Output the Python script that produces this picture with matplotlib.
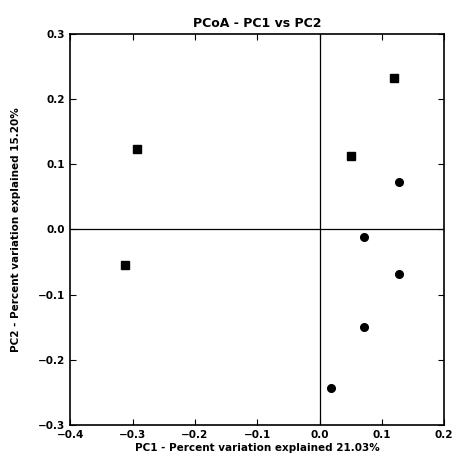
from matplotlib import pyplot as plt
import numpy as np

# PCoA coordinates
pc1 = [0.120, 0.050, 0.127, 0.072, 0.128, 0.072, 0.018, -0.293, -0.312]
pc2 = [0.232, 0.112, 0.072, -0.011, -0.069, -0.149, -0.243, 0.124, -0.055]
big = [True, True, False, False, False, False, False, True, True]

xticks = [-0.4, -0.3, -0.2, -0.1, 0.0, 0.1, 0.2]
yticks = [-0.3, -0.2, -0.1, 0.0, 0.1, 0.2, 0.3]

plt.rcParams['font.family'] = 'DejaVu Sans'
plt.rcParams['font.weight'] = 'bold'

fig = plt.figure(figsize=(4.56, 4.63), dpi=100)
ax = fig.add_axes([0.154, 0.082, 0.82, 0.845])

for x, y, b in zip(pc1, pc2, big):
    ax.plot(x, y, marker='s' if b else 'o', color='black',
            markersize=5.5 if b else 5.5, ls='none')

ax.axhline(0, color='black', lw=0.9)
ax.axvline(0, color='black', lw=0.9)

def lab(t):
    return ('%.1f' % t).replace('-', '\u2212')

ax.set_xlim(-0.4, 0.2)
ax.set_ylim(-0.3, 0.3)
ax.set_xticks(xticks)
ax.set_yticks(yticks)
ax.set_xticklabels([lab(t) for t in xticks])
ax.set_yticklabels([lab(t) for t in yticks])
ax.tick_params(direction='in', top=True, right=True, labelsize=7.5, length=4)
for s in ax.spines.values():
    s.set_linewidth(1.2)

ax.set_title('PCoA - PC1 vs PC2', fontsize=9, fontweight='bold', pad=5)
ax.set_xlabel('PC1 - Percent variation explained 21.03%', fontsize=7.5, fontweight='bold', labelpad=2)
ax.set_ylabel('PC2 - Percent variation explained 15.20%', fontsize=7.5, fontweight='bold', labelpad=12)

plt.savefig('out.png', dpi=100)
